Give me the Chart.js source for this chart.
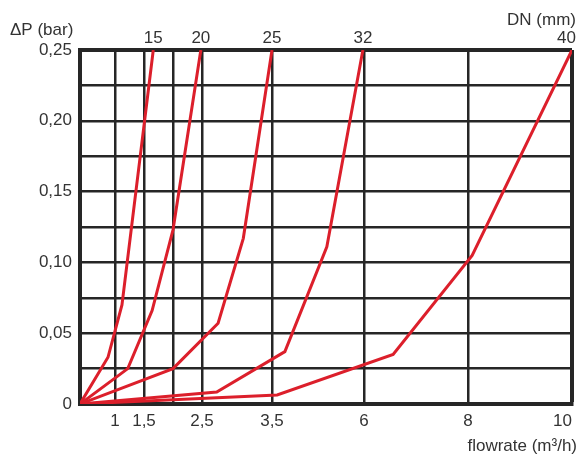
<!DOCTYPE html>
<html>
<head>
<meta charset="utf-8">
<script src="https://cdn.jsdelivr.net/npm/chart.js@4"></script>
<style>
  html, body { margin: 0; padding: 0; background: #fff; }
</style>
</head>
<body>
<canvas id="dnChart" width="581" height="459"></canvas>
<script>
// pipe sizes (DN, mm) and the read-off curve vertices: flowrate m3/h vs pressure drop bar
var dnSizes = ["15", "20", "25", "32", "40"];
var flowDN15 = [0, 0.80, 1.12, 1.66];
var dpDN15 = [0, 0.033, 0.070, 0.25];
var flowDN20 = [0, 1.22, 1.64, 2.0, 2.48];
var dpDN20 = [0, 0.025, 0.066, 0.123, 0.25];
var flowDN25 = [0, 2.0, 2.73, 3.09, 3.5];
var dpDN25 = [0, 0.025, 0.057, 0.117, 0.25];
var flowDN32 = [0, 2.71, 3.85, 4.99, 5.97];
var dpDN32 = [0, 0.0085, 0.037, 0.111, 0.25];
var flowDN40 = [0, 3.64, 6.56, 8.08, 10];
var dpDN40 = [0, 0.0064, 0.035, 0.105, 0.25];

// x axis grid lines and their labels (0 and 2 have a line but no label)
var flowTicks = [0, 1, 1.5, 2, 2.5, 3.5, 6, 8, 10];
var flowTickLabels = ["", "1", "1,5", "", "2,5", "3,5", "6", "8", "10"];

// the printed chart does not use an even x scale, width of each grid cell
var flowCellWidths = [35, 29, 29, 29, 70, 92, 104, 104];

var red = "#dc1f2b";
var gridColor = "#262626";
var textColor = "#333";
var font = "17px 'Liberation Sans', Arial, sans-serif";

// piecewise linear scale, straight between grid lines
class PiecewiseScale extends Chart.LinearScale {
    _decimalFor(value) {
        var total = flowCellWidths.reduce(function (a, b) { return a + b; }, 0);
        var acc = 0;
        for (var i = 0; i < flowCellWidths.length; i++) {
            var a = flowTicks[i], b = flowTicks[i + 1];
            if (value <= b || i === flowCellWidths.length - 1) {
                return (acc + (value - a) / (b - a) * flowCellWidths[i]) / total;
            }
            acc += flowCellWidths[i];
        }
        return 1;
    }
    getPixelForValue(value) {
        if (value === null || value === undefined) return NaN;
        return this.getPixelForDecimal(this._decimalFor(value));
    }
}
PiecewiseScale.id = "piecewise";
PiecewiseScale.defaults = Chart.LinearScale.defaults;
Chart.register(PiecewiseScale);

function points(xs, ys) {
    return xs.map(function (x, i) { return { x: x, y: ys[i] }; });
}

var curves = [
    points(flowDN15, dpDN15),
    points(flowDN20, dpDN20),
    points(flowDN25, dpDN25),
    points(flowDN32, dpDN32),
    points(flowDN40, dpDN40)
];

var labelsPlugin = {
    id: "dnLabels",
    afterDraw: function (chart) {
        var ctx = chart.ctx;
        var xs = chart.scales.x, ys = chart.scales.y;
        ctx.save();
        ctx.fillStyle = textColor;
        ctx.font = font;
        ctx.textBaseline = "middle";
        ctx.textAlign = "left";
        ctx.fillText("ΔP (bar)", 10, 30);
        ctx.textAlign = "right";
        ctx.fillText("DN (mm)", chart.width - 5, 20);
        ctx.fillText("flowrate (m³/h)", chart.width - 4, 446);

        ctx.textBaseline = "bottom";
        chart.data.datasets.forEach(function (ds) {
            var last = ds.data[ds.data.length - 1];
            var px = xs.getPixelForValue(last.x);
            var py = ys.getPixelForValue(last.y);
            var w = ctx.measureText(ds.label).width;
            if (px + w / 2 > chart.width - 5) {
                ctx.textAlign = "right";
                ctx.fillText(ds.label, chart.width - 5, py - 3);
            } else {
                ctx.textAlign = "center";
                ctx.fillText(ds.label, px, py - 3);
            }
        });
        ctx.restore();
    }
};

var ctx = document.getElementById("dnChart").getContext("2d");
new Chart(ctx, {
    type: "line",
    data: {
        datasets: dnSizes.map(function (dn, i) {
            return {
                label: dn,
                data: curves[i],
                borderColor: red,
                borderWidth: 3,
                pointRadius: 0,
                tension: 0,
                fill: false
            };
        })
    },
    options: {
        responsive: false,
        animation: false,
        events: [],
        layout: { padding: { left: 0, top: 50, right: 9, bottom: 0 } },
        plugins: {
            legend: { display: false },
            tooltip: { enabled: false }
        },
        scales: {
            x: {
                type: "piecewise",
                min: 0,
                max: 10,
                afterBuildTicks: function (scale) {
                    scale.ticks = flowTicks.map(function (v) { return { value: v }; });
                },
                afterFit: function (scale) { scale.height = 55; },
                ticks: {
                    autoSkip: false,
                    maxRotation: 0,
                    align: "inner",
                    padding: 7,
                    color: textColor,
                    font: { family: "'Liberation Sans', Arial, sans-serif", size: 17 },
                    callback: function (v, i) { return flowTickLabels[i]; }
                },
                grid: {
                    color: gridColor,
                    drawTicks: false,
                    lineWidth: function (c) { return c.tick && c.tick.value === 10 ? 4 : 2.5; }
                },
                border: { color: gridColor, width: 4 }
            },
            y: {
                min: 0,
                max: 0.25,
                afterFit: function (scale) { scale.width = 80; },
                ticks: {
                    stepSize: 0.025,
                    padding: 8,
                    color: textColor,
                    font: { family: "'Liberation Sans', Arial, sans-serif", size: 17 },
                    callback: function (v) {
                        var k = Math.round(v * 1000);
                        if (k % 50 !== 0) return "";
                        return k === 0 ? "0" : (k / 1000).toFixed(2).replace(".", ",");
                    }
                },
                grid: {
                    color: gridColor,
                    drawTicks: false,
                    lineWidth: function (c) {
                        return c.tick && Math.round(c.tick.value * 1000) === 250 ? 4 : 2.5;
                    }
                },
                border: { color: gridColor, width: 4 }
            }
        }
    },
    plugins: [labelsPlugin]
});
</script>
</body>
</html>
